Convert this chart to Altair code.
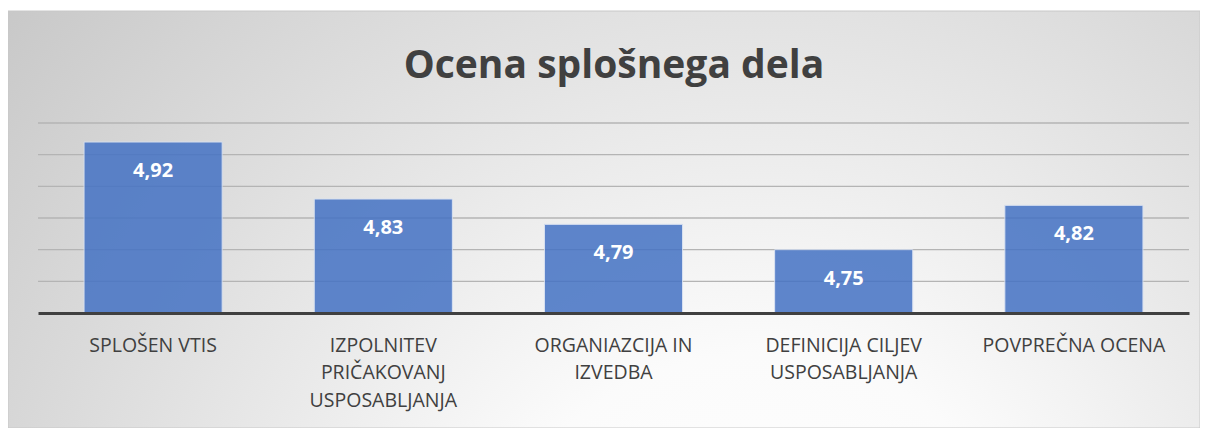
import json
import altair as alt
import pandas as pd

title_text = "Ocena splošnega dela"
categories = [
    "SPLOŠEN VTIS",
    "IZPOLNITEV PRIČAKOVANJ USPOSABLJANJA",
    "ORGANIAZCIJA IN IZVEDBA",
    "DEFINICIJA CILJEV USPOSABLJANJA",
    "POVPREČNA OCENA",
]
label_lines = [
    ["SPLOŠEN VTIS"],
    ["IZPOLNITEV", "PRIČAKOVANJ", "USPOSABLJANJA"],
    ["ORGANIAZCIJA IN", "IZVEDBA"],
    ["DEFINICIJA CILJEV", "USPOSABLJANJA"],
    ["POVPREČNA OCENA"],
]
values = [4.92, 4.83, 4.79, 4.75, 4.82]
grid_values = [4.70, 4.75, 4.80, 4.85, 4.90, 4.95]
y_min, y_max = 4.65, 4.95

W, H = 1151, 190
PAD = {"left": 30, "top": 115, "right": 11, "bottom": 115}

df = pd.DataFrame({"cat": categories, "val": values})
grid_df = pd.DataFrame({"g": grid_values})

label_map = json.dumps(dict(zip(categories, label_lines)), ensure_ascii=False)

x_enc = alt.X(
    "cat:N",
    sort=categories,
    scale=alt.Scale(paddingInner=0.4, paddingOuter=0.2),
    axis=alt.Axis(
        title=None,
        ticks=False,
        domainColor="#404040",
        domainWidth=3,
        labelAngle=0,
        labelFont="Open Sans",
        labelFontSize=19.5,
        labelColor="#404040",
        labelPadding=32,
        labelLineHeight=27.5,
        labelBaseline="middle",
        labelExpr=f"{label_map}[datum.label]",
        labelLimit=300,
        zindex=2,
    ),
)
y_scale = alt.Scale(domain=[y_min, y_max], zero=False, nice=False)

bg = (
    alt.Chart(pd.DataFrame({"a": [0]}))
    .mark_rect(
        fill=alt.Gradient(
            gradient="radial",
            stops=[
                alt.GradientStop(color="#ffffff", offset=0),
                alt.GradientStop(color="#fbfbfb", offset=0.25),
                alt.GradientStop(color="#bdbdbd", offset=1),
            ],
            x1=0.63, y1=0.85, r1=0,
            x2=0.63, y2=0.85, r2=0.95,
        ),
        stroke="#c8c8c8",
        strokeWidth=1,
        clip=False,
    )
    .encode(
        x=alt.value(-30), x2=alt.value(1162),
        y=alt.value(-112), y2=alt.value(305),
    )
)

grid = (
    alt.Chart(grid_df)
    .mark_rule(color="#b4b4b4", strokeWidth=1.4)
    .encode(y=alt.Y("g:Q", scale=y_scale, axis=None))
)

bars = (
    alt.Chart(df)
    .mark_bar(color="#4472C4", opacity=0.85, stroke="#d6e0f2", strokeWidth=1)
    .encode(
        x=x_enc,
        y=alt.Y("val:Q", scale=y_scale, axis=None),
        y2=alt.datum(y_min),
    )
)

labels = (
    alt.Chart(df)
    .transform_calculate(lbl="replace(format(datum.val, '.2f'), '.', ',')")
    .mark_text(
        font="Open Sans", fontSize=20, fontWeight="bold", color="white",
        baseline="middle", dy=29,
    )
    .encode(x=alt.X("cat:N", sort=categories), y=alt.Y("val:Q", scale=y_scale), text="lbl:N")
)

title = (
    alt.Chart(pd.DataFrame({"t": [title_text]}))
    .mark_text(
        font="Open Sans", fontSize=39, fontWeight="bold", color="#404040",
        baseline="alphabetic", align="center",
    )
    .encode(text="t:N", x=alt.value(576), y=alt.value(-45))
)

chart = (
    alt.layer(bg, grid, bars, labels, title)
    .properties(width=W, height=H, padding=PAD, autosize=alt.AutoSizeParams(type="none"))
    .configure_view(stroke=None)
    .configure(background="white")
)

chart.save("out.html", embed_options={"renderer": "svg", "actions": False})
